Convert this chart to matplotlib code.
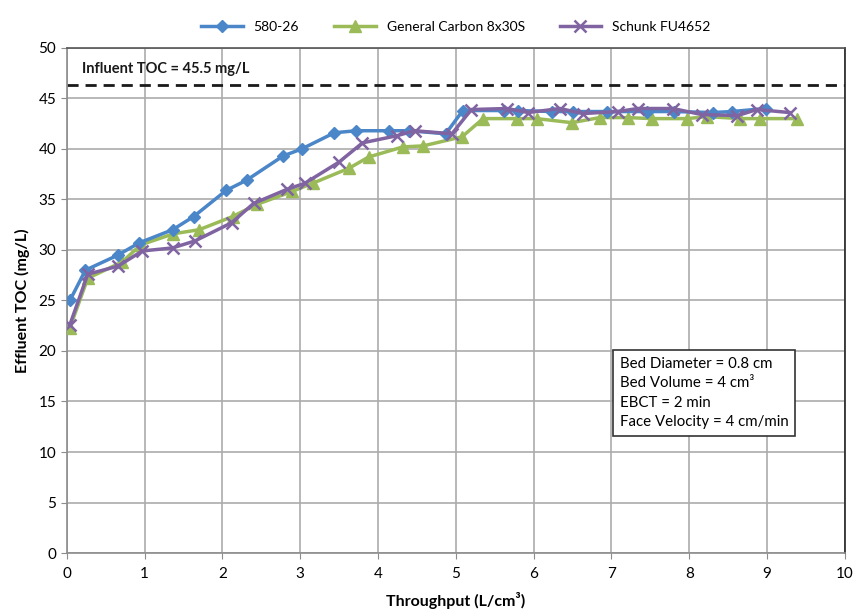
import matplotlib
matplotlib.use("Agg")
import matplotlib.pyplot as plt

plt.rcParams['font.family'] = ['Lato', 'DejaVu Sans']

# Data
x_580 = [0.04, 0.24, 0.66, 0.93, 1.36, 1.63, 2.05, 2.31, 2.78, 3.02, 3.44, 3.72, 4.14, 4.40, 4.87,
         5.09, 5.62, 5.80, 6.23, 6.50, 6.94, 7.46, 7.80, 8.30, 8.55, 8.98]
y_580 = [25.0, 28.0, 29.5, 30.7, 32.0, 33.3, 35.9, 36.9, 39.3, 40.0, 41.6, 41.8, 41.8, 41.8, 41.5,
         43.8, 43.8, 43.8, 43.7, 43.7, 43.7, 43.7, 43.7, 43.6, 43.7, 44.0]

x_gc = [0.04, 0.27, 0.71, 0.95, 1.37, 1.70, 2.13, 2.44, 2.90, 3.16, 3.63, 3.88, 4.32, 4.58, 5.08,
        5.35, 5.78, 6.04, 6.49, 6.85, 7.21, 7.52, 7.97, 8.23, 8.65, 8.91, 9.38]
y_gc = [22.3, 27.2, 28.8, 30.5, 31.6, 32.0, 33.3, 34.5, 35.8, 36.6, 38.1, 39.2, 40.2, 40.3, 41.2,
        43.0, 43.0, 43.0, 42.6, 43.1, 43.1, 43.0, 43.0, 43.2, 43.0, 43.0, 43.0]

x_sch = [0.04, 0.27, 0.66, 0.97, 1.36, 1.65, 2.12, 2.40, 2.83, 3.06, 3.50, 3.80, 4.24, 4.47, 4.95,
         5.20, 5.66, 5.93, 6.34, 6.63, 7.08, 7.34, 7.79, 8.16, 8.62, 8.87, 9.29]
y_sch = [22.6, 27.6, 28.4, 29.9, 30.2, 30.9, 32.7, 34.6, 36.0, 36.6, 38.7, 40.6, 41.3, 41.8, 41.5,
         43.9, 44.0, 43.6, 44.0, 43.5, 43.7, 44.0, 44.0, 43.4, 43.3, 43.9, 43.6]

influent_level = 46.3
x_ticks = list(range(0, 11))
y_ticks = list(range(0, 51, 5))

fig = plt.figure(figsize=(8.56, 6.14), dpi=100)
ax = fig.add_axes([0.078, 0.0993, 0.909, 0.8227])

blue = '#4a86c8'
green = '#9bbb59'
purple = '#8064a2'

ax.plot(x_580, y_580, color=blue, lw=2.5, marker='D', ms=6.5, mfc=blue, mec=blue, label='580-26', zorder=4)
ax.plot(x_gc, y_gc, color=green, lw=2.5, marker='^', ms=9, mfc=green, mec=green, label='General Carbon 8x30S', zorder=3)
ax.plot(x_sch, y_sch, color=purple, lw=2.5, marker='x', ms=8.5, mew=1.8, mec=purple, label='Schunk FU4652', zorder=5)

ax.axhline(influent_level, color='#1a1a1a', lw=2, ls=(0, (4, 2.5)), zorder=2)
ax.text(0.2, 47.9, 'Influent TOC = 45.5 mg/L', fontsize=10.5, fontweight='bold', color='#1a1a1a', va='center')

ax.set_xlim(0, 10)
ax.set_ylim(0, 50)
ax.set_xticks(x_ticks)
ax.set_yticks(y_ticks)
ax.grid(True, color='#ababab', lw=1.2)
ax.set_axisbelow(True)
ax.tick_params(axis='both', labelsize=11, color='#8c8c8c', length=4, direction='out')
ax.tick_params(axis='x', pad=6)

for s in ['left', 'bottom']:
    ax.spines[s].set_color('#8c8c8c')
    ax.spines[s].set_linewidth(1.2)
ax.spines['right'].set_color('#222222')
ax.spines['right'].set_linewidth(1.2)
ax.spines['top'].set_color('#555555')
ax.spines['top'].set_linewidth(1.2)

ax.set_xlabel('Throughput (L/cm³)', fontsize=11.5, fontweight='bold', labelpad=8)
ax.set_ylabel('Effluent TOC (mg/L)', fontsize=11.5, fontweight='bold', labelpad=6)

ax.legend(loc='lower center', bbox_to_anchor=(0.5, 1.005), ncol=3, frameon=False,
          fontsize=10, handlelength=3, columnspacing=2.5)

box_text = 'Bed Diameter = 0.8 cm\nBed Volume = 4 cm³\nEBCT = 2 min\nFace Velocity = 4 cm/min'
ax.text(0.711, 0.389, box_text, transform=ax.transAxes, fontsize=10.8, va='top', ha='left',
        linespacing=1.5,
        bbox=dict(boxstyle='square,pad=0.45', facecolor='white', edgecolor='#333333', lw=1.2), zorder=6)

fig.savefig('out.png', dpi=100)
